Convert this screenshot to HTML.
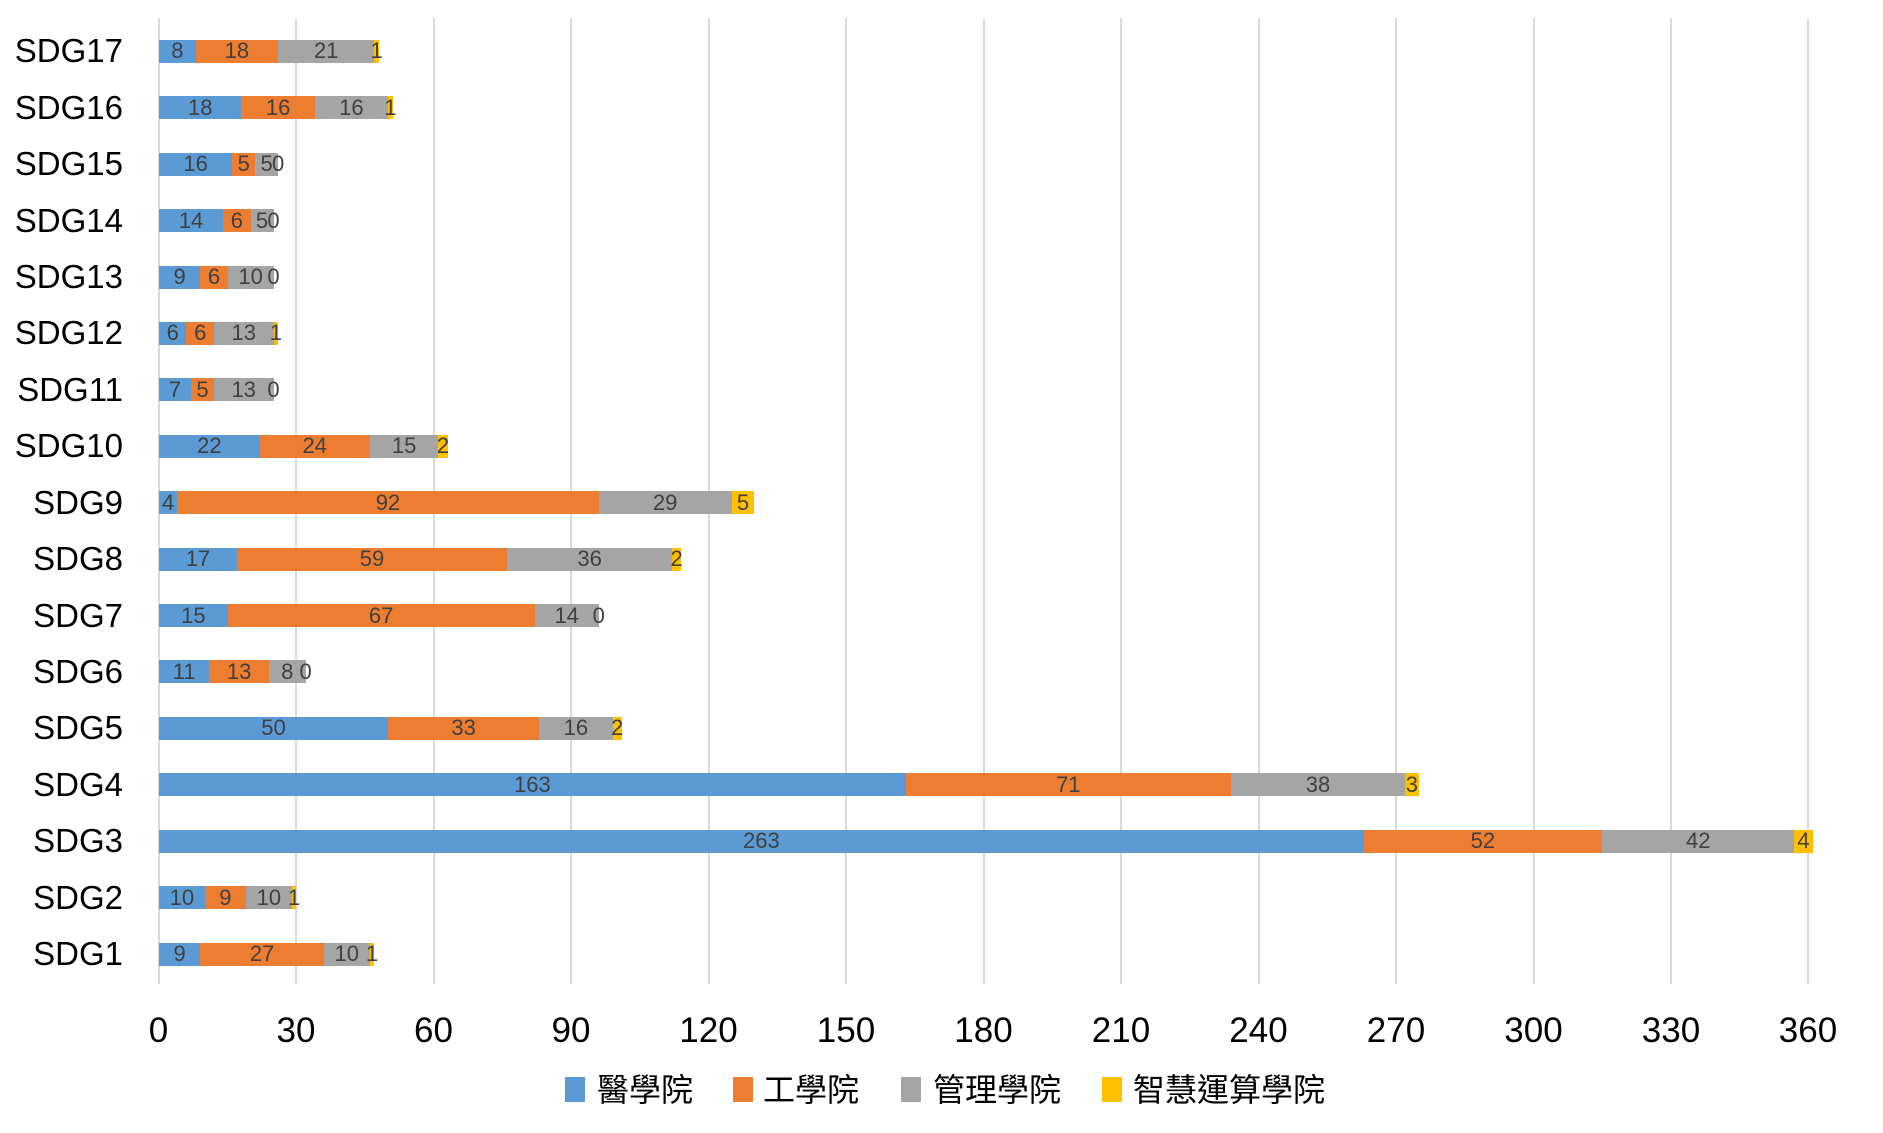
<!DOCTYPE html>
<html><head><meta charset="utf-8"><style>
*{margin:0;padding:0;box-sizing:border-box}
body{width:1883px;height:1133px;background:#fff;position:relative;overflow:hidden;font-family:"Liberation Sans","Noto Sans CJK TC",sans-serif}
.g{position:absolute;top:18px;height:966px;width:2px;background:#d9d9d9}
.yl{position:absolute;right:1760px;font-size:33px;color:#000;line-height:40px;white-space:nowrap}
.bar{position:absolute;left:159px;height:23px;display:flex}
.bar i{font-style:normal;display:flex;justify-content:center;align-items:center;height:23px;width:calc(var(--v) * 4.581px);font-size:22px;color:#404040;white-space:nowrap;overflow:visible}
.b{background:#5B9BD5}.o{background:#ED7D31}.a{background:#A5A5A5}.y{background:#FFC000}
.xt{position:absolute;top:1011px;width:100px;margin-left:-50px;text-align:center;font-size:35px;color:#000;line-height:40px}
.sq{position:absolute;top:1077px;width:20px;height:25px}
.lt{position:absolute;top:1072px;font-size:32px;line-height:36px;color:#000;font-family:"Liberation Sans","Noto Sans CJK TC",sans-serif}
</style></head><body>
<div class="g" style="left:157.5px"></div>
<div class="g" style="left:295px"></div>
<div class="g" style="left:432.5px"></div>
<div class="g" style="left:570px"></div>
<div class="g" style="left:707.5px"></div>
<div class="g" style="left:845px"></div>
<div class="g" style="left:982.5px"></div>
<div class="g" style="left:1120px"></div>
<div class="g" style="left:1257.5px"></div>
<div class="g" style="left:1395px"></div>
<div class="g" style="left:1532.5px"></div>
<div class="g" style="left:1670px"></div>
<div class="g" style="left:1807px"></div>

<div class="yl" style="top:31.3px">SDG17</div>
<div class="yl" style="top:87.7px">SDG16</div>
<div class="yl" style="top:144.1px">SDG15</div>
<div class="yl" style="top:200.6px">SDG14</div>
<div class="yl" style="top:257px">SDG13</div>
<div class="yl" style="top:313.4px">SDG12</div>
<div class="yl" style="top:369.8px">SDG11</div>
<div class="yl" style="top:426.2px">SDG10</div>
<div class="yl" style="top:482.7px">SDG9</div>
<div class="yl" style="top:539.1px">SDG8</div>
<div class="yl" style="top:595.5px">SDG7</div>
<div class="yl" style="top:651.9px">SDG6</div>
<div class="yl" style="top:708.3px">SDG5</div>
<div class="yl" style="top:764.8px">SDG4</div>
<div class="yl" style="top:821.2px">SDG3</div>
<div class="yl" style="top:877.6px">SDG2</div>
<div class="yl" style="top:934px">SDG1</div>

<div class="bar" style="top:39.8px"><i class="b" style="--v:8">8</i><i class="o" style="--v:18">18</i><i class="a" style="--v:21">21</i><i class="y" style="--v:1">1</i></div>
<div class="bar" style="top:96.2px"><i class="b" style="--v:18">18</i><i class="o" style="--v:16">16</i><i class="a" style="--v:16">16</i><i class="y" style="--v:1">1</i></div>
<div class="bar" style="top:152.6px"><i class="b" style="--v:16">16</i><i class="o" style="--v:5">5</i><i class="a" style="--v:5">5</i><i class="y" style="--v:0">0</i></div>
<div class="bar" style="top:209.1px"><i class="b" style="--v:14">14</i><i class="o" style="--v:6">6</i><i class="a" style="--v:5">5</i><i class="y" style="--v:0">0</i></div>
<div class="bar" style="top:265.5px"><i class="b" style="--v:9">9</i><i class="o" style="--v:6">6</i><i class="a" style="--v:10">10</i><i class="y" style="--v:0">0</i></div>
<div class="bar" style="top:321.9px"><i class="b" style="--v:6">6</i><i class="o" style="--v:6">6</i><i class="a" style="--v:13">13</i><i class="y" style="--v:1">1</i></div>
<div class="bar" style="top:378.3px"><i class="b" style="--v:7">7</i><i class="o" style="--v:5">5</i><i class="a" style="--v:13">13</i><i class="y" style="--v:0">0</i></div>
<div class="bar" style="top:434.7px"><i class="b" style="--v:22">22</i><i class="o" style="--v:24">24</i><i class="a" style="--v:15">15</i><i class="y" style="--v:2">2</i></div>
<div class="bar" style="top:491.2px"><i class="b" style="--v:4">4</i><i class="o" style="--v:92">92</i><i class="a" style="--v:29">29</i><i class="y" style="--v:5">5</i></div>
<div class="bar" style="top:547.6px"><i class="b" style="--v:17">17</i><i class="o" style="--v:59">59</i><i class="a" style="--v:36">36</i><i class="y" style="--v:2">2</i></div>
<div class="bar" style="top:604px"><i class="b" style="--v:15">15</i><i class="o" style="--v:67">67</i><i class="a" style="--v:14">14</i><i class="y" style="--v:0">0</i></div>
<div class="bar" style="top:660.4px"><i class="b" style="--v:11">11</i><i class="o" style="--v:13">13</i><i class="a" style="--v:8">8</i><i class="y" style="--v:0">0</i></div>
<div class="bar" style="top:716.8px"><i class="b" style="--v:50">50</i><i class="o" style="--v:33">33</i><i class="a" style="--v:16">16</i><i class="y" style="--v:2">2</i></div>
<div class="bar" style="top:773.3px"><i class="b" style="--v:163">163</i><i class="o" style="--v:71">71</i><i class="a" style="--v:38">38</i><i class="y" style="--v:3">3</i></div>
<div class="bar" style="top:829.7px"><i class="b" style="--v:263">263</i><i class="o" style="--v:52">52</i><i class="a" style="--v:42">42</i><i class="y" style="--v:4">4</i></div>
<div class="bar" style="top:886.1px"><i class="b" style="--v:10">10</i><i class="o" style="--v:9">9</i><i class="a" style="--v:10">10</i><i class="y" style="--v:1">1</i></div>
<div class="bar" style="top:942.5px"><i class="b" style="--v:9">9</i><i class="o" style="--v:27">27</i><i class="a" style="--v:10">10</i><i class="y" style="--v:1">1</i></div>

<div class="xt" style="left:158.5px">0</div>
<div class="xt" style="left:296px">30</div>
<div class="xt" style="left:433.5px">60</div>
<div class="xt" style="left:571px">90</div>
<div class="xt" style="left:708.5px">120</div>
<div class="xt" style="left:846px">150</div>
<div class="xt" style="left:983.5px">180</div>
<div class="xt" style="left:1121px">210</div>
<div class="xt" style="left:1258.5px">240</div>
<div class="xt" style="left:1396px">270</div>
<div class="xt" style="left:1533.5px">300</div>
<div class="xt" style="left:1671px">330</div>
<div class="xt" style="left:1808px">360</div>

<div class="sq b" style="left:565px"></div><div class="lt" style="left:597px">醫學院</div>
<div class="sq o" style="left:733px"></div><div class="lt" style="left:763px">工學院</div>
<div class="sq a" style="left:901px"></div><div class="lt" style="left:933px">管理學院</div>
<div class="sq y" style="left:1102px"></div><div class="lt" style="left:1133px">智慧運算學院</div>
</body></html>
